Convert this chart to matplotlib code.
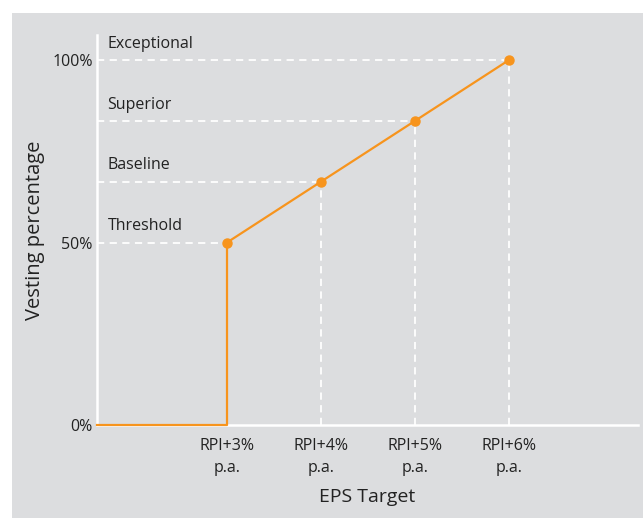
import matplotlib.pyplot as plt
from matplotlib.patches import Rectangle

# vesting schedule
eps_pos = [3, 4, 5, 6]
eps_labels = ["RPI+3%\np.a.", "RPI+4%\np.a.", "RPI+5%\np.a.", "RPI+6%\np.a."]
vesting = [50, 66.67, 83.33, 100]
levels = ["Threshold", "Baseline", "Superior", "Exceptional"]
y_ticks = [0, 50, 100]
y_ticklabels = ["0%", "50%", "100%"]

orange = "#f7941d"
grey = "#dcdddf"
plt.rcParams['font.family'] = ['Open Sans', 'DejaVu Sans']

fig = plt.figure(figsize=(6.43, 5.18), dpi=100)
fig.patch.set_facecolor("white")
fig.patches.append(Rectangle((12 / 643, 0), 1, 1 - 13 / 518, transform=fig.transFigure,
                             facecolor=grey, edgecolor="none", zorder=-10))

ax = fig.add_axes([97 / 643, 93 / 518, 541 / 643, 390 / 518])
ax.set_facecolor("none")
xmin, xmax = 1.617, 7.372
ax.set_xlim(xmin, xmax)
ax.set_ylim(0, 106.85)

# dashed guides
for x, y, name in zip(eps_pos, vesting, levels):
    ax.plot([xmin, x], [y, y], color="white", ls=(0, (4, 3)), lw=1.3, zorder=1)
    if x != eps_pos[0]:
        ax.plot([x, x], [0, y], color="white", ls=(0, (4, 3)), lw=1.3, zorder=1)
    ax.annotate(name, (xmin, y), xytext=(7.5, 6), textcoords="offset points",
                fontsize=11.5, color="#222222", va="bottom", ha="left")

# vesting line
ax.plot([xmin, eps_pos[0]] + eps_pos, [0, 0] + vesting, color=orange, lw=1.6, zorder=3,
        clip_on=False)
ax.plot(eps_pos, vesting, "o", color=orange, ms=6.5, zorder=4, clip_on=False)

for s in ["top", "right"]:
    ax.spines[s].set_visible(False)
for s in ["left", "bottom"]:
    ax.spines[s].set_color("white")
    ax.spines[s].set_linewidth(1.8)
    ax.spines[s].set_zorder(2)

ax.set_yticks(y_ticks)
ax.set_yticklabels(y_ticklabels)
ax.set_xticks(eps_pos)
ax.set_xticklabels(eps_labels, linespacing=1.5)
ax.tick_params(length=0, labelsize=11.5, labelcolor="#222222")
ax.tick_params(axis="y", pad=3)
ax.tick_params(axis="x", pad=9)

ax.set_ylabel("Vesting percentage", fontsize=14.5, color="#222222", labelpad=5)
ax.set_xlabel("EPS Target", fontsize=14, color="#222222", labelpad=9)

fig.savefig("out.png", dpi=100)
